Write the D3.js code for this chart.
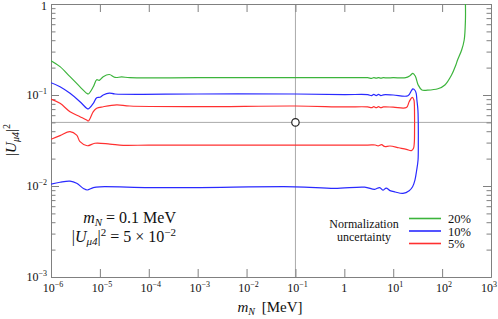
<!DOCTYPE html>
<html>
<head>
<meta charset="utf-8">
<script src="https://cdn.jsdelivr.net/npm/d3@7"></script>
<style>
    body { margin: 0; background: #fff; }
    svg text { font-family: "Liberation Serif", "DejaVu Serif", serif; fill: #111; }
</style>
</head>
<body>
<div class="main_content"></div>
<script>
// Contours in the (m_N [MeV], |U_mu4|^2) plane
let green20 = [
    [1e-6, 0.238], [1.53e-6, 0.205], [2.45e-6, 0.159], [3.92e-6, 0.123], [5.37e-6, 0.1044],
    [5.8e-6, 0.1026], [7.33e-6, 0.123], [8.6e-6, 0.147], [9.7e-6, 0.1446], [1.17e-5, 0.159],
    [1.56e-5, 0.168], [2.04e-5, 0.156], [2.79e-5, 0.158], [4.1e-5, 0.155], [1e-3, 0.155],
    [0.1, 0.155], [1, 0.155], [3, 0.155], [3.6, 0.1525], [4.0, 0.1555], [4.5, 0.153], [5.0, 0.1555],
    [5.6, 0.153], [6.3, 0.155], [7.5, 0.154], [10, 0.155], [18, 0.155], [22, 0.163], [25.3, 0.173],
    [28.5, 0.16], [32.4, 0.129], [38.6, 0.1135], [50, 0.113], [82, 0.117], [114, 0.129],
    [156, 0.166], [191, 0.214], [207, 0.242], [251, 0.312], [283, 0.402], [300, 0.667], [300, 1.0]
];

let blue10 = [
    [1e-6, 0.1365], [1.53e-6, 0.1234], [2.45e-6, 0.1044], [3.92e-6, 0.0844], [5.37e-6, 0.0714],
    [5.8e-6, 0.0703], [7.33e-6, 0.081], [8.6e-6, 0.0935], [1e-5, 0.0944], [1.17e-5, 0.1],
    [1.56e-5, 0.105], [2.04e-5, 0.1026], [1e-3, 0.1026], [0.1, 0.1026], [1, 0.101], [3, 0.101],
    [3.6, 0.0985], [4.0, 0.1015], [4.5, 0.0985], [5.0, 0.1015], [5.6, 0.0985], [6.3, 0.1005], [10, 0.1],
    [20, 0.098], [23.6, 0.112], [25.3, 0.117], [28, 0.112], [29.5, 0.104], [30.5, 0.088],
    [32, 0.0685], [32.5, 0.05], [32.6, 0.03], [32.2, 0.0193], [30.1, 0.0148], [27.8, 0.0116],
    [24.9, 0.0098], [21.2, 0.00887], [15.8, 0.0083], [11, 0.0086], [8.6, 0.0089], [7.19, 0.0095],
    [6.15, 0.009], [5.27, 0.0096], [4.17, 0.0092], [2.6, 0.0097], [0.63, 0.0094], [0.098, 0.0098],
    [1e-3, 0.0096], [1e-4, 0.0096], [1e-5, 0.0098], [7.33e-6, 0.0096], [5.5e-6, 0.00904],
    [4.6e-6, 0.0094], [3.35e-6, 0.0107], [2.45e-6, 0.0113], [1.53e-6, 0.011], [1e-6, 0.0105]
];

let red5 = [
    [1e-6, 0.0904], [1.53e-6, 0.081], [2.45e-6, 0.0655], [3.92e-6, 0.0578], [5.37e-6, 0.0531],
    [5.8e-6, 0.0518], [7.33e-6, 0.0655], [8.6e-6, 0.0714], [1.17e-5, 0.0743], [2.2e-5, 0.078],
    [4.1e-5, 0.0757], [1e-3, 0.0745], [0.1, 0.0757], [1, 0.074], [3, 0.074], [3.6, 0.0725],
    [4.0, 0.0745], [4.5, 0.0725], [5.0, 0.0745], [5.6, 0.0725], [6.3, 0.074], [10, 0.0735],
    [18.6, 0.0727], [21.2, 0.0844], [24.5, 0.094], [26.5, 0.088], [27, 0.081], [27.3, 0.06],
    [27.3, 0.041], [27, 0.03], [26, 0.026], [23.5, 0.0245], [18.6, 0.0253], [13, 0.0263],
    [8.6, 0.0275], [6.6, 0.0272], [5.8, 0.0285], [4.9, 0.0276], [4.3, 0.0282], [3, 0.0282],
    [1e-3, 0.0282], [1e-4, 0.0282], [3e-5, 0.028], [1.6e-5, 0.0289], [7.9e-6, 0.0295],
    [5.5e-6, 0.0277], [3.92e-6, 0.0307], [3.35e-6, 0.0362], [2.45e-6, 0.0395], [1.53e-6, 0.0358],
    [1e-6, 0.0326]
];

let seriesNames = ['20%', '10%', '5%'];
let seriesColors = ['#3cb43c', '#2a2aff', '#ff3030'];
let seriesData = [green20, blue10, red5];

// Benchmark point
let benchmark = [0.1, 5e-2];

// Tick exponents
let xExponents = [-6, -5, -4, -3, -2, -1, 0, 1, 2, 3];
let yExponents = [-3, -2, -1, 0];

let margin = {top: 4, right: 7, bottom: 42, left: 51};
let width = 498 - margin.left - margin.right;
let height = 319 - margin.top - margin.bottom;

let svg = d3.select('.main_content').append('svg')
    .attr('width', 498)
    .attr('height', 319);

let g = svg.append('g')
    .attr('transform', 'translate(' + margin.left + ',' + margin.top + ')');

let xScale = d3.scaleLog().domain([1e-6, 1e3]).range([0, width]);
let yScale = d3.scaleLog().domain([1e-3, 1]).range([height, 0]);

// Minor y ticks (2..9 per decade)
let yMinor = [];
yExponents.slice(0, -1).forEach(e => {
    for (let k = 2; k <= 9; k++) yMinor.push(k * Math.pow(10, e));
});
let yMajor = yExponents.map(e => Math.pow(10, e));
let xMajor = xExponents.map(e => Math.pow(10, e));

g.append('defs').append('clipPath').attr('id', 'plotClip')
    .append('rect').attr('width', width).attr('height', height);

// Reference lines through the benchmark
g.append('line')
    .attr('x1', xScale(benchmark[0])).attr('x2', xScale(benchmark[0]))
    .attr('y1', 0).attr('y2', height)
    .style('stroke', '#aaa').style('stroke-width', 1);
g.append('line')
    .attr('x1', 0).attr('x2', width)
    .attr('y1', yScale(benchmark[1])).attr('y2', yScale(benchmark[1]))
    .style('stroke', '#aaa').style('stroke-width', 1);

// Axes: ticks point inwards
function styleAxis(sel) {
    sel.selectAll('path').style('stroke', '#808080');
    sel.selectAll('line').style('stroke', '#808080');
    sel.selectAll('text').remove();
}

g.append('g').attr('transform', 'translate(0,' + height + ')')
    .call(d3.axisBottom(xScale).tickValues(xMajor).tickSizeInner(-8).tickSizeOuter(0))
    .call(styleAxis);
g.append('g')
    .call(d3.axisTop(xScale).tickValues(xMajor).tickSizeInner(-8).tickSizeOuter(0))
    .call(styleAxis);
g.append('g')
    .call(d3.axisLeft(yScale).tickValues(yMajor).tickSizeInner(-8).tickSizeOuter(0))
    .call(styleAxis);
g.append('g')
    .call(d3.axisLeft(yScale).tickValues(yMinor).tickSizeInner(-4.5).tickSizeOuter(0))
    .call(styleAxis);
g.append('g').attr('transform', 'translate(' + width + ',0)')
    .call(d3.axisRight(yScale).tickValues(yMajor).tickSizeInner(-8).tickSizeOuter(0))
    .call(styleAxis);
g.append('g').attr('transform', 'translate(' + width + ',0)')
    .call(d3.axisRight(yScale).tickValues(yMinor).tickSizeInner(-4.5).tickSizeOuter(0))
    .call(styleAxis);

// Power-of-ten labels
function powerLabel(text, e) {
    if (e === 0) {
        text.text('1');
        return;
    }
    text.append('tspan').text('10');
    text.append('tspan').attr('dy', -5).style('font-size', '8px')
        .text(e === 1 ? '1' : String(e).replace('-', '\u2212'));
}

g.selectAll('.x_label').data(xExponents).enter().append('text')
    .classed('x_label', true)
    .attr('x', d => d === 3 ? width + 6 : xScale(Math.pow(10, d)) + (d === 0 ? 0 : 2))
    .attr('y', height + 15)
    .attr('text-anchor', d => d === 3 ? 'end' : 'middle')
    .style('font-size', '12px')
    .each(function(d) { powerLabel(d3.select(this), d); });

g.selectAll('.y_label').data(yExponents).enter().append('text')
    .classed('y_label', true)
    .attr('x', -4)
    .attr('y', d => yScale(Math.pow(10, d)) + (d === 0 ? 6 : 4))
    .attr('text-anchor', 'end')
    .style('font-size', '12px')
    .each(function(d) { powerLabel(d3.select(this), d); });

// Axis titles
let xTitle = svg.append('text')
    .attr('x', 270).attr('y', 312)
    .attr('text-anchor', 'middle')
    .style('font-size', '15px');
xTitle.append('tspan').style('font-style', 'italic').text('m');
xTitle.append('tspan').attr('dy', 3).style('font-size', '10px').style('font-style', 'italic').text('N');
xTitle.append('tspan').attr('dy', -3).text('\u2009 [MeV]');

let yTitle = svg.append('text')
    .attr('transform', 'translate(16,140) rotate(-90)')
    .attr('text-anchor', 'middle')
    .style('font-size', '15px');
yTitle.append('tspan').text('|');
yTitle.append('tspan').style('font-style', 'italic').text('U');
yTitle.append('tspan').attr('dy', 3).style('font-size', '10px').style('font-style', 'italic').text('\u03bc4');
yTitle.append('tspan').attr('dy', -3).text('|');
yTitle.append('tspan').attr('dy', -6).style('font-size', '10px').text('2');

// Contours
let line = d3.line()
    .x(d => xScale(d[0]))
    .y(d => yScale(d[1]))
    .curve(d3.curveCatmullRom.alpha(0.5));

g.append('g').attr('clip-path', 'url(#plotClip)')
    .selectAll('path').data(seriesData).enter().append('path')
    .attr('d', line)
    .style('fill', 'none')
    .style('stroke', (d, i) => seriesColors[i])
    .style('stroke-width', 1.2);

// Benchmark marker
g.append('circle')
    .attr('cx', xScale(benchmark[0]))
    .attr('cy', yScale(benchmark[1]))
    .attr('r', 3.7)
    .style('fill', '#fff')
    .style('stroke', '#222')
    .style('stroke-width', 1.2);

// Benchmark annotation
let note1 = svg.append('text')
    .attr('x', 176).attr('y', 223)
    .attr('text-anchor', 'end')
    .style('font-size', '16px');
note1.append('tspan').style('font-style', 'italic').text('m');
note1.append('tspan').attr('dy', 3).style('font-size', '11px').style('font-style', 'italic').text('N');
note1.append('tspan').attr('dy', -3).text(' = 0.1 MeV');

let note2 = svg.append('text')
    .attr('x', 176).attr('y', 242)
    .attr('text-anchor', 'end')
    .style('font-size', '16px');
note2.append('tspan').text('|');
note2.append('tspan').style('font-style', 'italic').text('U');
note2.append('tspan').attr('dy', 3).style('font-size', '11px').style('font-style', 'italic').text('\u03bc4');
note2.append('tspan').attr('dy', -3).text('|');
note2.append('tspan').attr('dy', -6).style('font-size', '11px').text('2');
note2.append('tspan').attr('dy', 6).text(' = 5 \u00d7 10');
note2.append('tspan').attr('dy', -6).style('font-size', '11px').text('\u22122');

// Legend
let legend = svg.append('g').classed('legend', true);
legend.append('text')
    .attr('x', 364).attr('y', 228)
    .attr('text-anchor', 'middle')
    .style('font-size', '12px')
    .text('Normalization');
legend.append('text')
    .attr('x', 364).attr('y', 241)
    .attr('text-anchor', 'middle')
    .style('font-size', '12px')
    .text('uncertainty');

let legendY = d3.scalePoint().domain(seriesNames).range([218.5, 243.5]);
let rows = legend.selectAll('.legend_row').data(seriesNames).enter().append('g')
    .classed('legend_row', true);
rows.append('line')
    .attr('x1', 409).attr('x2', 441)
    .attr('y1', d => legendY(d)).attr('y2', d => legendY(d))
    .style('stroke', (d, i) => seriesColors[i])
    .style('stroke-width', 1.6);
rows.append('text')
    .attr('x', 448)
    .attr('y', d => legendY(d) + 4.5)
    .style('font-size', '12.5px')
    .text(d => d);
</script>
</body>
</html>
